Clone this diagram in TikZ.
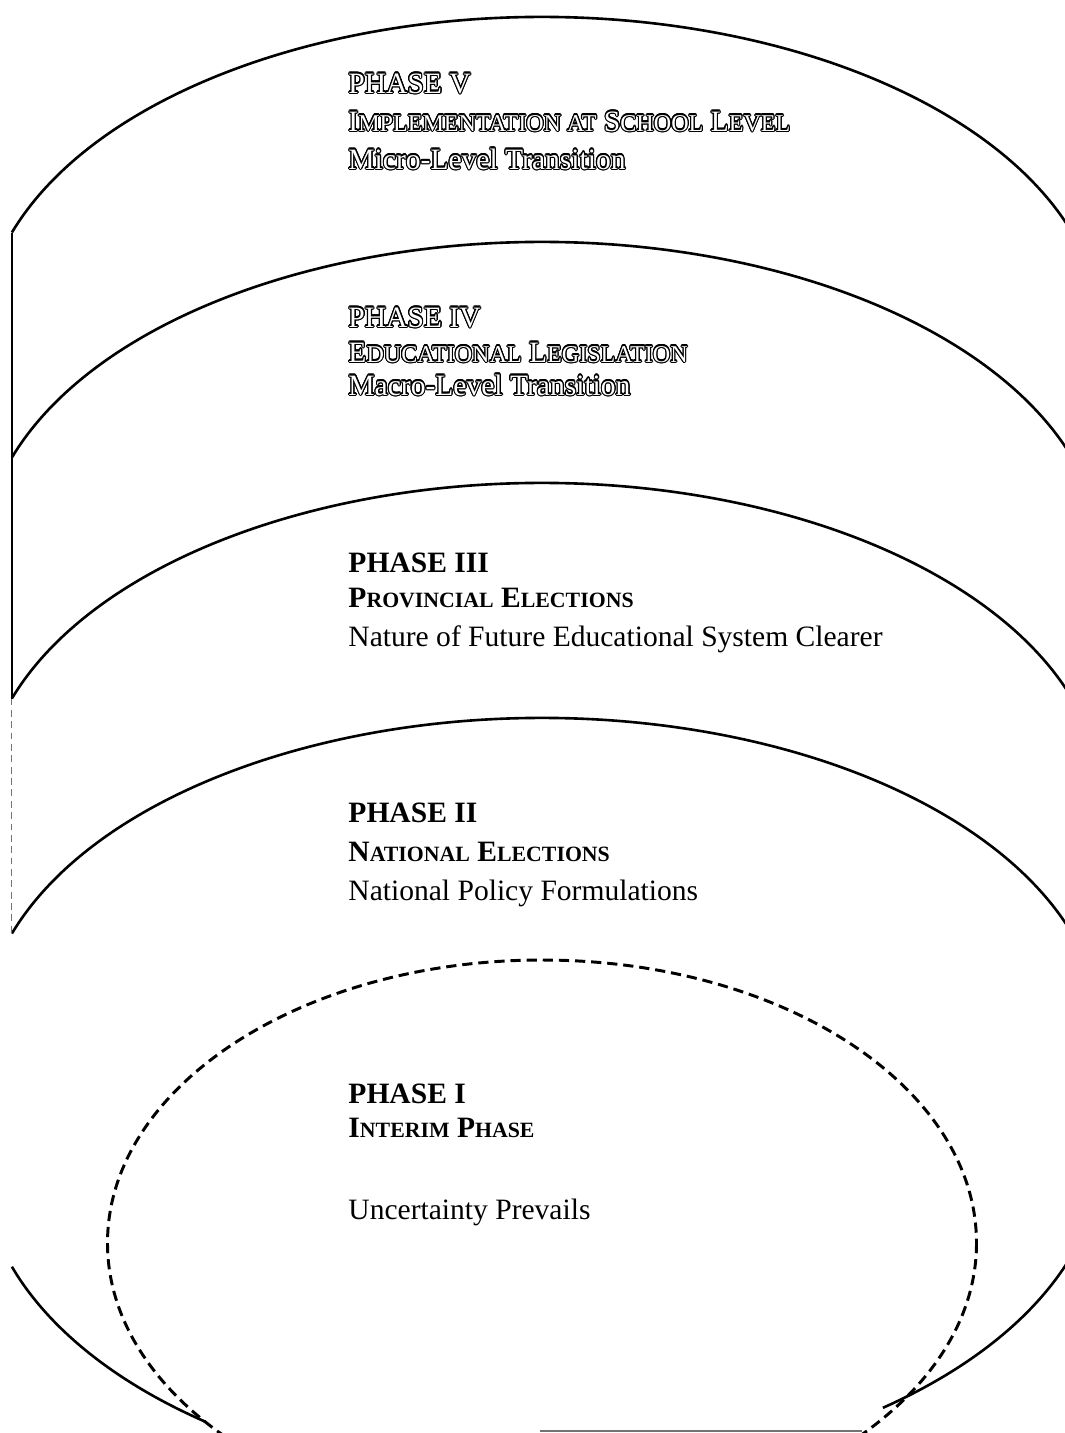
\documentclass[tikz,border=0pt]{standalone}
\usepackage{fontspec}
\setmainfont{Liberation Serif}
\usepackage[copies]{contour}
\contourlength{0.5pt}
\newcommand{\smc}[1]{{\fontsize{9.6}{11}\selectfont #1}}
\newcommand{\hsmc}[1]{{\fontsize{10.6}{12}\selectfont #1}}
\newcommand{\hollow}[1]{\contour{black}{#1}}
\tikzset{
  phaseline/.style={anchor=base west, inner sep=0pt, font=\fontsize{13}{15}\selectfont},
  phasetitle/.style={phaseline, font=\fontsize{13}{15}\selectfont\bfseries},
  hollowline/.style={phaseline, text=white},
  rim/.style={line width=1.15pt},
  core/.style={line width=1.3pt, dash pattern=on 4.5pt off 2.6pt},
  faint/.style={line width=0.5pt, black!55, dash pattern=on 3pt off 2pt}
}
\begin{document}
\begin{tikzpicture}[x=0.44pt, y=-0.44pt]
		\useasboundingbox (0,0) rectangle (1065,1433);
		\clip (0,0) rectangle (1065,1433);

		% Left ends of the rims
		\coordinate (v)   at (11.9, 232.5);
		\coordinate (iv)  at (11.9, 457.5);
		\coordinate (iii) at (11.9, 698.5);
		\coordinate (ii)  at (11.9, 933.5);

		% Draw the upper rims of the phases
		\draw[rim] (v)   arc[start angle=198.8, end angle=345, x radius=560, y radius=318];
		\draw[rim] (iv)  arc[start angle=198.8, end angle=345, x radius=560, y radius=318];
		\draw[rim] (iii) arc[start angle=198.8, end angle=345, x radius=560, y radius=318];
		\draw[rim] (ii)  arc[start angle=198.8, end angle=345, x radius=560, y radius=318];

		% Draw the wall on the left
		\draw[line width=0.6pt] (v) -- (iii);
		\draw[faint] (iii) -- (ii);

		% Draw the lower rim and the dashed core
		\draw[rim] (11.9,1266.7) arc[start angle=161.2, end angle=127, x radius=560, y radius=325];
		\draw[rim] (882.9,1407.8) arc[start angle=52.5, end angle=15, x radius=560, y radius=325];
		\draw[core] (542,1243) ellipse[x radius=434.5, y radius=283];
		\draw[line width=0.8pt, black!55] (540,1431) -- (862,1431);

		% Phase V
		\node[hollowline] (vTitle) at (348,93)  {\hollow{PHASE V}};
		\node[hollowline] (vName)  at (348,131) {\hollow{I\hsmc{MPLEMENTATION AT} S\hsmc{CHOOL} L\hsmc{EVEL}}};
		\node[hollowline] (vNote)  at (348,169) {\hollow{Micro-Level Transition}};

		% Phase IV
		\node[hollowline] (ivTitle) at (348,327) {\hollow{PHASE IV}};
		\node[hollowline] (ivName)  at (348,362) {\hollow{E\hsmc{DUCATIONAL} L\hsmc{EGISLATION}}};
		\node[hollowline] (ivNote)  at (348,395) {\hollow{Macro-Level Transition}};

		% Phase III
		\node[phasetitle] (iiiTitle) at (348,572) {PHASE III};
		\node[phasetitle] (iiiName)  at (348,607) {P\smc{ROVINCIAL} E\smc{LECTIONS}};
		\node[phaseline]  (iiiNote)  at (348,646) {Nature of Future Educational System Clearer};

		% Phase II
		\node[phasetitle] (iiTitle) at (348,822) {PHASE II};
		\node[phasetitle] (iiName)  at (348,861) {N\smc{ATIONAL} E\smc{LECTIONS}};
		\node[phaseline]  (iiNote)  at (348,900) {National Policy Formulations};

		% Phase I
		\node[phasetitle] (iTitle) at (348,1103) {PHASE I};
		\node[phasetitle] (iName)  at (348,1137) {I\smc{NTERIM} P\smc{HASE}};
		\node[phaseline]  (iNote)  at (348,1219) {Uncertainty Prevails};

	\end{tikzpicture}
\end{document}
